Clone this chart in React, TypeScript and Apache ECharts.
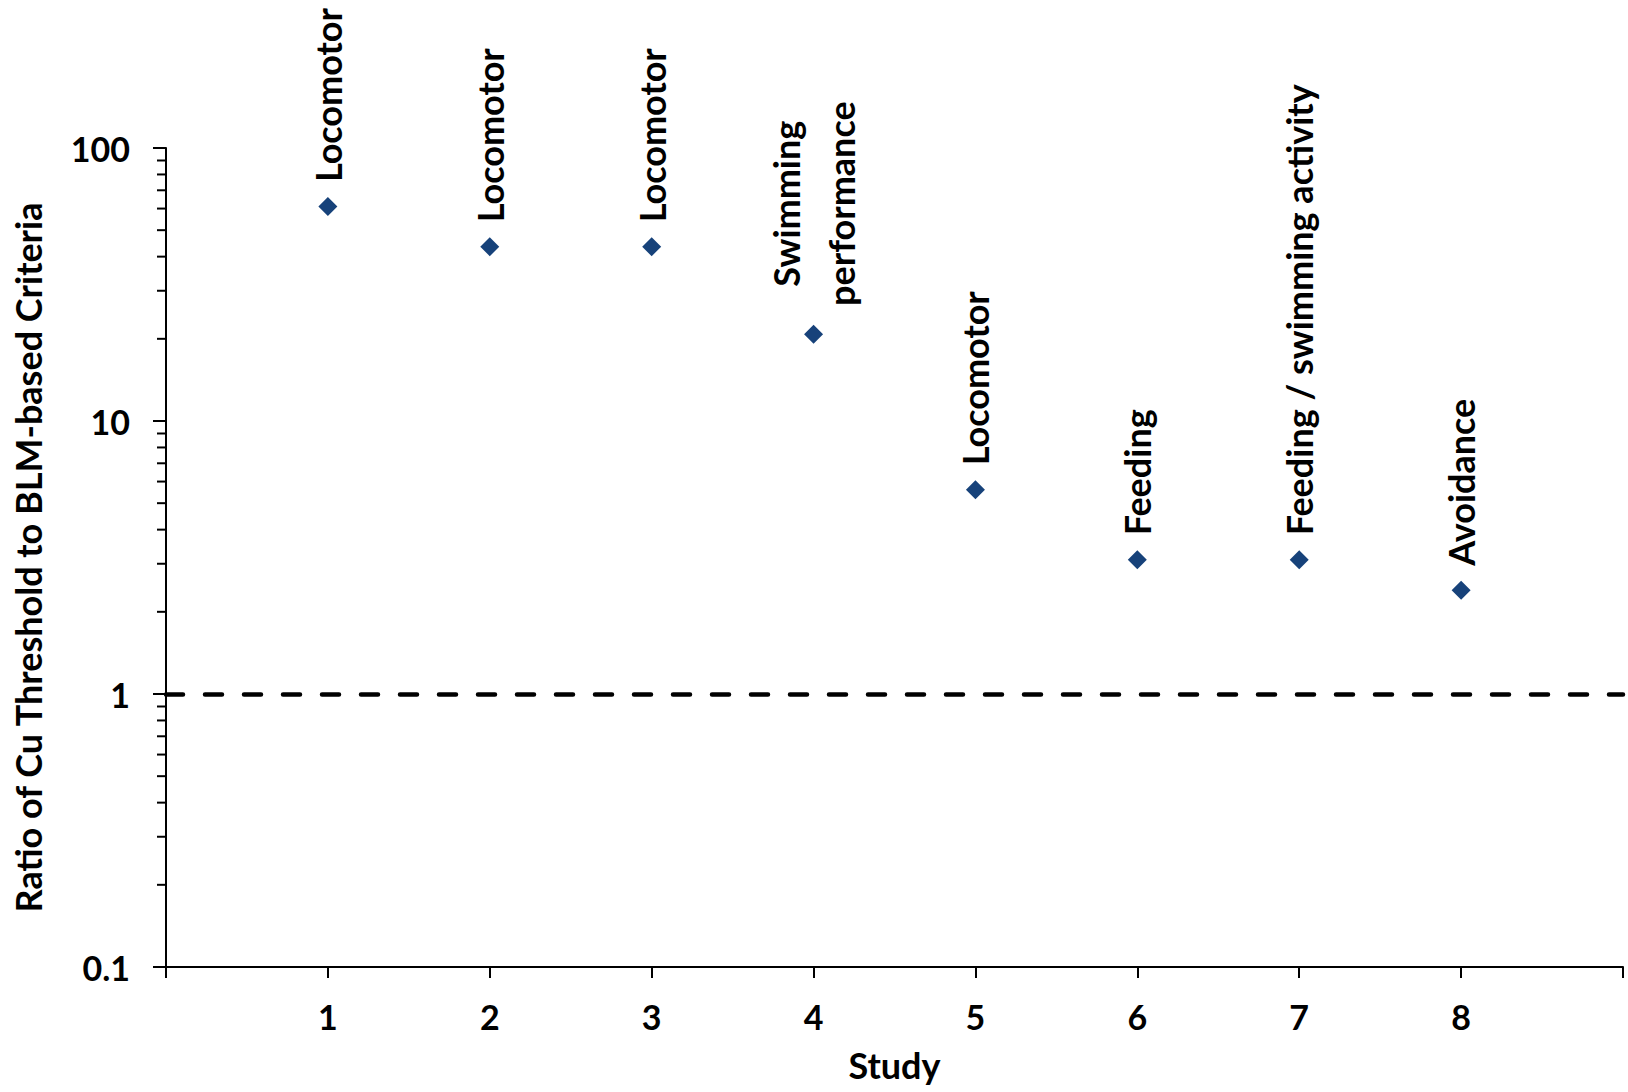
import React, { useEffect, useRef } from "react";
import * as echarts from "echarts";

const studies = [1, 2, 3, 4, 5, 6, 7, 8];
const ratios = [61, 43.5, 43.5, 20.8, 5.6, 3.1, 3.1, 2.4];
const endpoints = [
  "Locomotor",
  "Locomotor",
  "Locomotor",
  "Swimming\nperformance",
  "Locomotor",
  "Feeding",
  "Feeding / swimming activity",
  "Avoidance",
];
const xTickLabels = ["1", "2", "3", "4", "5", "6", "7", "8"];
const yTickLabels = ["0.1", "1", "10", "100"];
const minorTickValues = [
  0.2, 0.3, 0.4, 0.5, 0.6, 0.7, 0.8, 0.9,
  2, 3, 4, 5, 6, 7, 8, 9,
  20, 30, 40, 50, 60, 70, 80, 90,
];
const referenceRatio = 1;

const FONT = "Lato";

export default function App() {
  const ref = useRef<HTMLDivElement>(null);

  useEffect(() => {
    if (!ref.current) return;
    const chart = echarts.init(ref.current, null, { renderer: "svg" });

    const baseLabel = {
      show: true,
      fontFamily: FONT,
      fontWeight: "bold",
      fontSize: 36,
      color: "#000000",
      rotate: 90,
    };

    const scatterData = studies.map((s, i) => {
      const multi = endpoints[i].includes("\n");
      const label: any = multi
        ? {
            ...baseLabel,
            formatter: endpoints[i],
            position: ["50%", -121],
            align: "center",
            verticalAlign: "middle",
            lineHeight: 55,
          }
        : {
            ...baseLabel,
            formatter: endpoints[i],
            position: "top",
            distance: 15,
            align: "left",
            verticalAlign: "middle",
          };
      return { value: [s, ratios[i]], label };
    });

    chart.setOption({
      animation: false,
      backgroundColor: "#ffffff",
      textStyle: { fontFamily: FONT },
      grid: {
        left: 166,
        top: 148,
        right: 5,
        bottom: 125,
        containLabel: false,
        outerBoundsMode: "none",
      },
      xAxis: {
        type: "value",
        min: 0,
        max: 9,
        interval: 1,
        name: "Study",
        nameLocation: "middle",
        nameGap: 80,
        nameTextStyle: { fontFamily: FONT, fontWeight: "bold", fontSize: 36, color: "#000" },
        axisLine: { show: true, onZero: false, lineStyle: { color: "#000", width: 2 } },
        axisTick: { show: true, inside: false, length: 11, lineStyle: { color: "#000", width: 2 } },
        axisLabel: {
          margin: 32,
          fontFamily: FONT,
          fontWeight: "bold",
          fontSize: 34,
          color: "#000",
          formatter: (v: number) => {
            const idx = studies.indexOf(v);
            return idx >= 0 ? xTickLabels[idx] : "";
          },
        },
        splitLine: { show: false },
      },
      yAxis: {
        type: "log",
        logBase: 10,
        min: 0.1,
        max: 100,
        name: "Ratio of Cu Threshold to BLM-based Criteria",
        nameLocation: "middle",
        nameGap: 120,
        nameTextStyle: { fontFamily: FONT, fontWeight: "bold", fontSize: 36, color: "#000" },
        axisLine: { show: true, onZero: false, lineStyle: { color: "#000", width: 2 } },
        axisTick: { show: true, inside: false, length: 13, lineStyle: { color: "#000", width: 2 } },
        axisLabel: {
          margin: 36,
          fontFamily: FONT,
          fontWeight: "bold",
          fontSize: 34,
          color: "#000",
          formatter: (v: number) => {
            const e = Math.round(Math.log10(v)) + 1;
            return yTickLabels[e] ?? String(v);
          },
        },
        splitLine: { show: false },
      },
      series: [
        {
          type: "custom",
          clip: false,
          silent: true,
          data: minorTickValues.map((v) => [0, v]),
          renderItem: (params: any, api: any) => {
            const p = api.coord([api.value(0), api.value(1)]);
            return {
              type: "line",
              shape: { x1: p[0] - 9, y1: p[1], x2: p[0], y2: p[1] },
              style: { stroke: "#000", lineWidth: 2 },
            };
          },
          z: 1,
        },
        {
          type: "scatter",
          symbol: "diamond",
          symbolSize: 19,
          itemStyle: { color: "#17427A", opacity: 1 },
          label: baseLabel,
          data: scatterData,
          markLine: {
            silent: true,
            symbol: ["none", "none"],
            label: { show: false },
            lineStyle: { color: "#000", width: 4.5, type: [17, 22], cap: "round", opacity: 1 },
            data: [{ yAxis: referenceRatio }],
          },
          z: 3,
        },
      ],
    });

    return () => chart.dispose();
  }, []);

  return (
    <div
      ref={ref}
      style={{ position: "fixed", left: 0, top: 0, width: 1628, height: 1092 }}
    />
  );
}
